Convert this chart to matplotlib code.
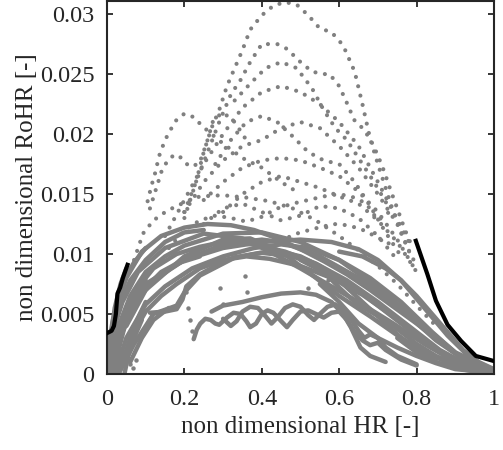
import matplotlib
matplotlib.use("Agg")
import matplotlib.pyplot as plt

plt.rcParams['font.family'] = ['Liberation Serif', 'DejaVu Serif']

GRAY = '#808080'

# ---- black reference lines ----
blk_left_x = [0.0, 0.012, 0.018, 0.023, 0.027, 0.034, 0.041, 0.053]
blk_left_y = [0.0034, 0.0036, 0.0040, 0.0050, 0.0067, 0.0072, 0.0080, 0.0091]
blk_right_x = [0.798, 0.828, 0.850, 0.880, 0.915, 0.953, 0.997]
blk_right_y = [0.0111, 0.0083, 0.0061, 0.0041, 0.00275, 0.0015, 0.0011]

# ---- dense (solid) gray curves ----
s1_x = [0, 0.03, 0.06, 0.1, 0.15, 0.2, 0.3, 0.4, 0.5, 0.6, 0.7, 0.8, 0.9, 1.0]
s1_y = [0.0005, 0.004, 0.0065, 0.0085, 0.0098, 0.0107, 0.0117, 0.0118, 0.011, 0.0095, 0.0072, 0.0045, 0.0018, 0.0003]
s2_x = [0.01, 0.04, 0.08, 0.12, 0.2, 0.3, 0.4, 0.45, 0.55, 0.65, 0.75, 0.85, 0.95, 1.0]
s2_y = [0.0, 0.0035, 0.0062, 0.0078, 0.0095, 0.0108, 0.0112, 0.011, 0.0098, 0.008, 0.0057, 0.0028, 0.0006, 0.0002]
s3_x = [0.02, 0.05, 0.1, 0.15, 0.22, 0.3, 0.38, 0.45, 0.52, 0.6, 0.68, 0.76, 0.84, 0.92, 1.0]
s3_y = [0.0, 0.003, 0.0058, 0.0073, 0.0088, 0.0098, 0.0105, 0.0108, 0.0105, 0.0095, 0.008, 0.006, 0.0035, 0.0012, 0.0002]
s4_x = [0.03, 0.07, 0.12, 0.18, 0.2, 0.24, 0.33, 0.4, 0.48, 0.56, 0.64, 0.72, 0.8, 0.88, 0.96]
s4_y = [0.0, 0.0025, 0.005, 0.0057, 0.0068, 0.0082, 0.0097, 0.0101, 0.0098, 0.0088, 0.0072, 0.0052, 0.0032, 0.0014, 0.0003]
s5_x = [0.02, 0.06, 0.1, 0.2, 0.3, 0.4, 0.5, 0.58, 0.65, 0.7, 0.76, 0.82, 0.88, 0.94, 1.0]
s5_y = [0.002, 0.0055, 0.0075, 0.0095, 0.0105, 0.011, 0.0112, 0.011, 0.0104, 0.0095, 0.0078, 0.0055, 0.0032, 0.0013, 0.0003]
s6_x = [0.05, 0.1, 0.2, 0.3, 0.37, 0.45, 0.52, 0.6, 0.68, 0.76, 0.84, 0.92]
s6_y = [0.004, 0.007, 0.0098, 0.0112, 0.0113, 0.0102, 0.0085, 0.0065, 0.0048, 0.003, 0.0015, 0.0005]
s7_x = [0.0, 0.04, 0.08, 0.15, 0.25, 0.35, 0.42, 0.5, 0.58, 0.66, 0.74, 0.82, 0.9]
s7_y = [0.002, 0.006, 0.0085, 0.0105, 0.0117, 0.0113, 0.0102, 0.0088, 0.0073, 0.0058, 0.0042, 0.0025, 0.001]
s8_x = [0.0, 0.02, 0.05, 0.09, 0.14, 0.2, 0.26, 0.32, 0.38, 0.44, 0.5, 0.56, 0.62, 0.68, 0.74, 0.8, 0.86, 0.92, 0.98]
s8_y = [0.001, 0.005, 0.008, 0.0102, 0.0115, 0.0122, 0.0125, 0.0124, 0.012, 0.0113, 0.0104, 0.0094, 0.0083, 0.007, 0.0056, 0.0042, 0.0027, 0.0012, 0.0003]
s9_x = [0.01, 0.04, 0.07, 0.12, 0.18, 0.24, 0.3, 0.38, 0.46, 0.54, 0.62, 0.7, 0.78, 0.86, 0.94]
s9_y = [0.001, 0.0045, 0.0068, 0.0088, 0.01, 0.0106, 0.011, 0.0108, 0.0102, 0.0092, 0.0078, 0.006, 0.004, 0.002, 0.0006]
s10_x = [0.04, 0.07, 0.1, 0.14, 0.18, 0.24, 0.3, 0.36, 0.42, 0.5, 0.58, 0.66, 0.74, 0.82, 0.9, 0.98]
s10_y = [0.001, 0.0035, 0.0052, 0.0065, 0.0075, 0.0088, 0.0095, 0.0098, 0.0096, 0.009, 0.008, 0.0066, 0.0048, 0.0028, 0.001, 0.0002]
s11_x = [0.5, 0.56, 0.6, 0.64, 0.68, 0.72, 0.76, 0.8, 0.85, 0.9, 0.95, 1.0]
s11_y = [0.0095, 0.0085, 0.0072, 0.006, 0.0052, 0.0045, 0.0035, 0.0025, 0.0015, 0.0008, 0.0003, 0.0001]
s12_x = [0.55, 0.6, 0.65, 0.7, 0.75, 0.8, 0.85, 0.9, 1.0]
s12_y = [0.0075, 0.006, 0.0042, 0.003, 0.0022, 0.0015, 0.0009, 0.0004, 0.0001]
s13_x = [0.6, 0.66, 0.72, 0.76, 0.8, 0.84, 0.88, 0.92, 0.96, 1.0]
s13_y = [0.0102, 0.0098, 0.0088, 0.0078, 0.0065, 0.005, 0.0035, 0.002, 0.001, 0.0004]
s14_x = [0.75, 0.8, 0.85, 0.9, 0.95, 1.0]
s14_y = [0.003, 0.0018, 0.001, 0.0005, 0.0002, 0.0001]
s15_x = [0.0, 0.03, 0.06, 0.1, 0.15, 0.2, 0.25]
s15_y = [0.0015, 0.0055, 0.0078, 0.0095, 0.011, 0.0118, 0.012]
s16_x = [0.03, 0.06, 0.1, 0.14, 0.18, 0.24]
s16_y = [0.0035, 0.0058, 0.0072, 0.0085, 0.0092, 0.0098]
s17_x = [0.06, 0.09, 0.12, 0.16]
s17_y = [0.001, 0.003, 0.0045, 0.0055]
b_x = [0.111, 0.15, 0.18, 0.195, 0.205, 0.24, 0.28, 0.327, 0.396, 0.45, 0.5, 0.55, 0.6, 0.65, 0.7, 0.75, 0.8, 0.85]
b_y = [0.0051, 0.0052, 0.0054, 0.0062, 0.0073, 0.0083, 0.009, 0.0097, 0.0101, 0.0102, 0.0098, 0.009, 0.0078, 0.0063, 0.0048, 0.0033, 0.002, 0.001]
e1_x = [0.0, 0.005, 0.015, 0.03, 0.05, 0.07, 0.1]
e1_y = [0.0, 0.0025, 0.0045, 0.0065, 0.0082, 0.0093, 0.0105]
e2_x = [0.01, 0.02, 0.04, 0.06, 0.09]
e2_y = [0.0, 0.002, 0.0045, 0.0062, 0.0078]
e3_x = [0.03, 0.045, 0.065, 0.085, 0.1]
e3_y = [0.0, 0.0015, 0.0035, 0.005, 0.006]
e4_x = [0.005, 0.01, 0.02, 0.035, 0.05]
e4_y = [0.0, 0.003, 0.0055, 0.0075, 0.0088]
e5_x = [0.02, 0.03, 0.05, 0.07, 0.1]
e5_y = [0.0, 0.002, 0.0045, 0.0062, 0.0078]
e6_x = [0.045, 0.055, 0.07, 0.09]
e6_y = [0.0, 0.0015, 0.003, 0.0045]

# ---- wavy lower curves ----
w1_x = [0.224, 0.232, 0.241, 0.254, 0.268, 0.28, 0.29, 0.31, 0.327, 0.345, 0.36, 0.37, 0.385, 0.40, 0.415, 0.43, 0.45, 0.465,
        0.48, 0.5, 0.52, 0.54, 0.56, 0.58, 0.60, 0.62, 0.64, 0.66, 0.68, 0.7, 0.72, 0.76, 0.8]
w1_y = [0.0029, 0.0037, 0.0042, 0.0046, 0.0045, 0.0042, 0.0041, 0.0047, 0.0051, 0.005, 0.0044, 0.0039, 0.0042, 0.005, 0.0053, 0.0051, 0.0044, 0.0039,
        0.0045, 0.0052, 0.0053, 0.005, 0.0047, 0.0051, 0.0052, 0.0045, 0.0035, 0.0028, 0.0024, 0.0026, 0.002, 0.0012, 0.0007]
w2_x = [0.30, 0.32, 0.335, 0.35, 0.37, 0.39, 0.41, 0.425, 0.44, 0.46, 0.48, 0.50, 0.52, 0.535, 0.55, 0.57, 0.59, 0.61, 0.63,
        0.65, 0.665, 0.68, 0.70, 0.72, 0.75, 0.8]
w2_y = [0.0046, 0.004, 0.0044, 0.0052, 0.0056, 0.0055, 0.0048, 0.0042, 0.0047, 0.0055, 0.0058, 0.0056, 0.0049, 0.0045, 0.005, 0.0056, 0.0058, 0.0054, 0.0046,
        0.0036, 0.003, 0.0033, 0.003, 0.0022, 0.0015, 0.0008]
w3_x = [0.27, 0.30, 0.35, 0.40, 0.45, 0.50, 0.54, 0.58, 0.61, 0.63, 0.655, 0.68, 0.72]
w3_y = [0.0052, 0.0057, 0.006, 0.0064, 0.0067, 0.0068, 0.0066, 0.006, 0.005, 0.0039, 0.0022, 0.0015, 0.001]

# ---- sparse dotted upper curves ----
d1_x = [0.2, 0.23, 0.25, 0.27, 0.29, 0.31, 0.33, 0.35, 0.37, 0.40, 0.43, 0.46, 0.49, 0.52, 0.55, 0.58, 0.61, 0.64, 0.66,
        0.68, 0.70, 0.72, 0.74, 0.76, 0.78, 0.80]
d1_y = [0.013, 0.016, 0.0185, 0.0205, 0.022, 0.024, 0.0255, 0.027, 0.0287, 0.0299, 0.0307, 0.031, 0.0308, 0.0299, 0.0288, 0.0285, 0.0274, 0.0252, 0.0225,
        0.0196, 0.0175, 0.0155, 0.0135, 0.0118, 0.0103, 0.009]
d2_x = [0.2, 0.23, 0.26, 0.29, 0.32, 0.345, 0.37, 0.40, 0.44, 0.465, 0.5, 0.53, 0.56, 0.575, 0.6, 0.624, 0.638, 0.66, 0.68,
        0.7, 0.716, 0.733, 0.75, 0.77, 0.79]
d2_y = [0.0135, 0.016, 0.0185, 0.021, 0.0233, 0.0245, 0.026, 0.0275, 0.0275, 0.0271, 0.026, 0.0252, 0.025, 0.025, 0.024, 0.0223, 0.0212, 0.0205, 0.0196,
        0.0182, 0.0169, 0.0153, 0.0138, 0.012, 0.0105]
d3_x = [0.15, 0.2, 0.25, 0.3, 0.35, 0.4, 0.45, 0.5, 0.55, 0.6, 0.65, 0.7, 0.74, 0.78]
d3_y = [0.0115, 0.0145, 0.0175, 0.02, 0.0222, 0.0235, 0.024, 0.0235, 0.0225, 0.021, 0.019, 0.016, 0.0135, 0.011]
d4_x = [0.2, 0.25, 0.3, 0.35, 0.4, 0.45, 0.5, 0.55, 0.6, 0.65, 0.7, 0.75, 0.79]
d4_y = [0.0135, 0.016, 0.0178, 0.019, 0.0195, 0.0205, 0.021, 0.0205, 0.019, 0.0172, 0.015, 0.0125, 0.0095]
d5_x = [0.25, 0.3, 0.35, 0.4, 0.45, 0.5, 0.55, 0.6, 0.65, 0.7, 0.75, 0.8]
d5_y = [0.0145, 0.016, 0.0172, 0.0178, 0.018, 0.0178, 0.0172, 0.0165, 0.0152, 0.0135, 0.0112, 0.0085]
d6_x = [0.3, 0.35, 0.4, 0.45, 0.5, 0.55, 0.6, 0.65, 0.7, 0.75, 0.8]
d6_y = [0.0135, 0.015, 0.016, 0.0165, 0.016, 0.0155, 0.0148, 0.0142, 0.0128, 0.011, 0.0085]
d7_x = [0.25, 0.3, 0.35, 0.4, 0.45, 0.5, 0.55, 0.6, 0.65, 0.7, 0.75]
d7_y = [0.0125, 0.0138, 0.0142, 0.0135, 0.0128, 0.0132, 0.014, 0.0138, 0.013, 0.0115, 0.0095]
d8_x = [0.28, 0.32, 0.36, 0.4, 0.44, 0.48, 0.52, 0.56, 0.6, 0.64, 0.68, 0.72, 0.76]
d8_y = [0.0175, 0.0195, 0.021, 0.0215, 0.021, 0.0198, 0.0185, 0.0178, 0.0175, 0.016, 0.014, 0.0118, 0.0098]
d9_x = [0.33, 0.37, 0.41, 0.45, 0.49, 0.53, 0.56, 0.59, 0.62, 0.65, 0.69, 0.73]
d9_y = [0.0228, 0.0242, 0.0255, 0.026, 0.0255, 0.0238, 0.022, 0.0205, 0.0195, 0.018, 0.016, 0.0138]
d10_x = [0.16, 0.2, 0.24, 0.28, 0.32, 0.36, 0.4, 0.44, 0.48, 0.52, 0.56, 0.6, 0.64, 0.67, 0.7, 0.746]
d10_y = [0.0105, 0.012, 0.0128, 0.0132, 0.013, 0.0127, 0.0131, 0.0138, 0.0142, 0.0145, 0.0148, 0.015, 0.0147, 0.0142, 0.0128, 0.0139]
p1_x = [0.07, 0.093, 0.12, 0.155, 0.2, 0.24, 0.3, 0.36, 0.42, 0.48, 0.54, 0.6, 0.65, 0.7, 0.75, 0.8, 0.85]
p1_y = [0.0095, 0.0117, 0.0128, 0.0136, 0.0143, 0.0148, 0.0149, 0.0147, 0.0144, 0.0138, 0.0128, 0.0115, 0.0103, 0.009, 0.0075, 0.0057, 0.004]
p2_x = [0.105, 0.115, 0.124, 0.135, 0.15, 0.165, 0.18, 0.2, 0.225, 0.245, 0.27, 0.3, 0.35, 0.4, 0.45, 0.5]
p2_y = [0.0144, 0.0157, 0.0167, 0.0182, 0.0195, 0.0204, 0.0212, 0.0217, 0.0214, 0.0207, 0.02, 0.0192, 0.018, 0.0172, 0.016, 0.015]
p3_x = [0.111, 0.142, 0.159, 0.176, 0.193, 0.212, 0.238, 0.258, 0.275, 0.3, 0.33, 0.36]
p3_y = [0.0138, 0.017, 0.0179, 0.0183, 0.018, 0.0173, 0.0175, 0.0193, 0.0212, 0.0218, 0.021, 0.0195]
p4_x = [0.448, 0.49, 0.534, 0.586, 0.62, 0.655, 0.68, 0.733]
p4_y = [0.0111, 0.0117, 0.0121, 0.0125, 0.0124, 0.0121, 0.0117, 0.0108]

# ---- isolated dots ----
iso_x = [0.293, 0.357, 0.362, 0.30, 0.205, 0.21, 0.215, 0.22, 0.06, 0.067, 0.075, 0.52, 0.57]
iso_y = [0.0072, 0.0082, 0.0068, 0.0058, 0.0068, 0.0055, 0.0045, 0.0036, 0.0008, 0.0005, 0.0012, 0.0072, 0.0078]

solid = [(s1_x, s1_y), (s2_x, s2_y), (s3_x, s3_y), (s4_x, s4_y), (s5_x, s5_y), (s6_x, s6_y),
         (s7_x, s7_y), (s8_x, s8_y), (s9_x, s9_y), (s10_x, s10_y), (s11_x, s11_y), (s12_x, s12_y),
         (s13_x, s13_y), (s14_x, s14_y), (s15_x, s15_y), (s16_x, s16_y), (s17_x, s17_y), (b_x, b_y),
         (e1_x, e1_y), (e2_x, e2_y), (e3_x, e3_y), (e4_x, e4_y), (e5_x, e5_y), (e6_x, e6_y),
         (w1_x, w1_y), (w2_x, w2_y), (w3_x, w3_y)]
dotted = [(d1_x, d1_y), (d2_x, d2_y), (d3_x, d3_y), (d4_x, d4_y), (d5_x, d5_y), (d6_x, d6_y),
          (d7_x, d7_y), (d8_x, d8_y), (d9_x, d9_y), (d10_x, d10_y),
          (p1_x, p1_y), (p2_x, p2_y), (p3_x, p3_y), (p4_x, p4_y)]

fig = plt.figure(figsize=(5.03, 4.5), dpi=100)
ax = fig.add_axes([0.2127, 0.169, 0.7694, 0.829])

for xs, ys in solid:
    ax.plot(xs, ys, color=GRAY, lw=3.2, solid_capstyle='round', solid_joinstyle='round', zorder=2)
for xs, ys in dotted:
    ax.plot(xs, ys, color=GRAY, lw=3.0, linestyle=(0, (0.001, 2.3)), dash_capstyle='round', zorder=2)
ax.plot(iso_x, iso_y, 'o', color=GRAY, ms=3.2, mew=0, zorder=2)

ax.plot(blk_left_x, blk_left_y, color='black', lw=3.0, zorder=3)
ax.plot(blk_right_x, blk_right_y, color='black', lw=3.0, zorder=3)

ax.set_xlim(0, 1)
ax.set_ylim(0, 0.0311)
xticks = [0, 0.2, 0.4, 0.6, 0.8, 1]
xtick_labels = ['0', '0.2', '0.4', '0.6', '0.8', '1']
yticks = [0, 0.005, 0.01, 0.015, 0.02, 0.025, 0.03]
ytick_labels = ['0', '0.005', '0.01', '0.015', '0.02', '0.025', '0.03']
ax.set_xticks(xticks)
ax.set_xticklabels(xtick_labels)
ax.set_yticks(yticks)
ax.set_yticklabels(ytick_labels)
ax.tick_params(direction='in', length=4, width=1.3, top=True, right=True, labelsize=17.5,
               colors='#262626')
ax.tick_params(axis='x', pad=11)
ax.tick_params(axis='y', pad=9)
for t in ax.get_xticklabels() + ax.get_yticklabels():
    t.set_color('#262626')
for sp in ax.spines.values():
    sp.set_linewidth(1.5)
    sp.set_color('#262626')
ax.set_xlabel('non dimensional HR [-]', fontsize=18, labelpad=4, color='#262626')
ax.set_ylabel('non dimensional RoHR [-]', fontsize=18, labelpad=1, color='#262626')

fig.savefig('out.png', dpi=100)
